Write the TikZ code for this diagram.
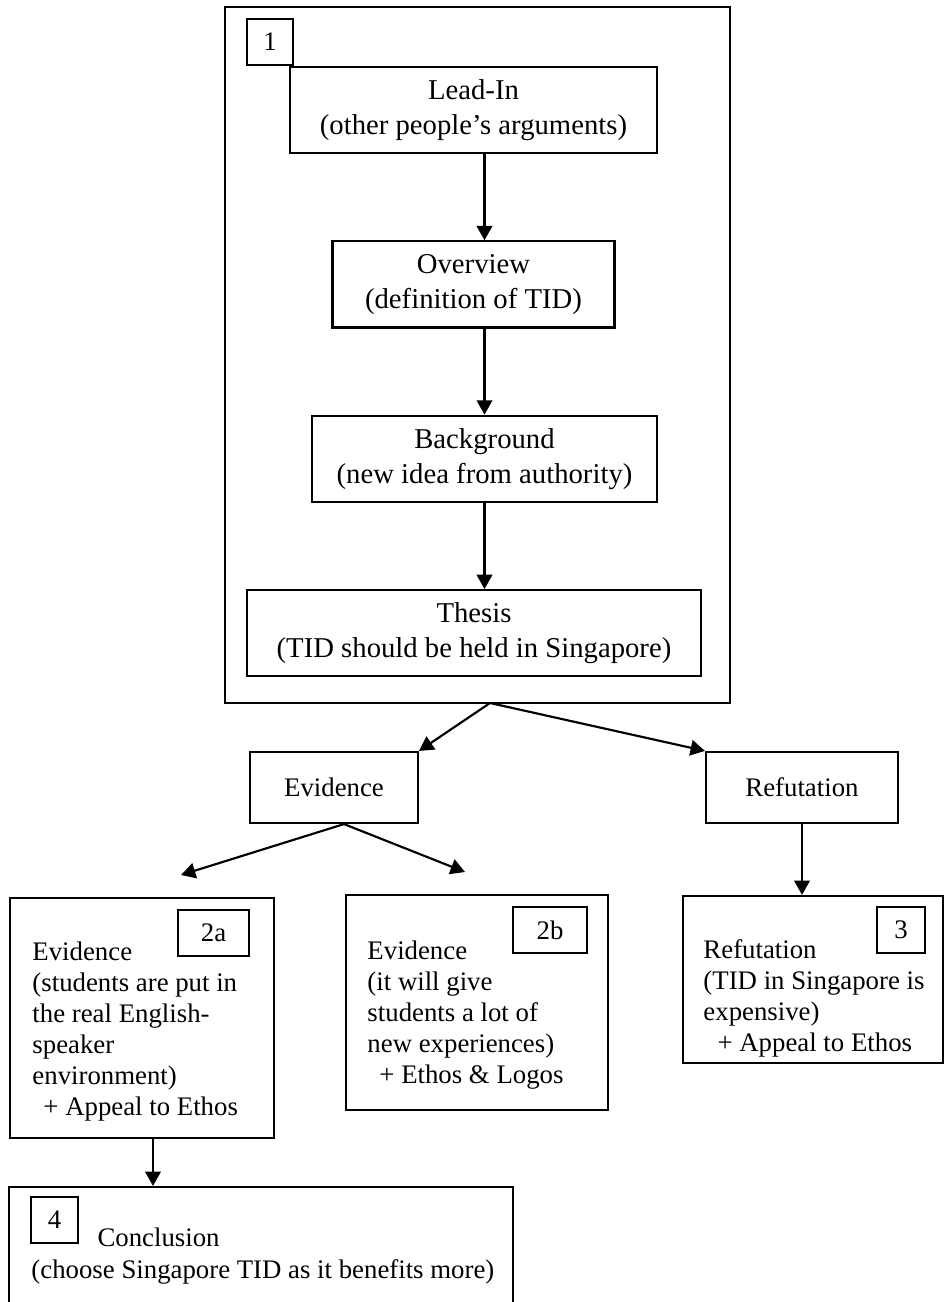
\documentclass[tikz,border=0pt]{standalone}
\usepackage{fontspec}
\setmainfont{Liberation Serif}
\usetikzlibrary{positioning,arrows.meta}
\newcommand{\pxl}{0.418pt}

\begin{document}
\begin{tikzpicture}[
  x=\pxl, y=-\pxl,
  box/.style={draw, line width=0.9pt, align=center, inner sep=0pt,
              minimum height=36pt, font=\fontsize{12}{14.6}\selectfont},
  midbox/.style={draw, line width=0.9pt, inner sep=0pt, minimum height=71*\pxl,
              font=\fontsize{11.2}{13}\selectfont},
  frame/.style={draw, line width=1pt, inner sep=0pt},
  numbox/.style={draw, line width=0.9pt, inner sep=0pt, minimum height=46*\pxl,
              font=\fontsize{11.2}{13}\selectfont},
  txt/.style={align=left, inner sep=0pt, anchor=north west,
              font=\fontsize{11.2}{13}\selectfont},
  flow/.style={-{Triangle[length=6pt,width=6.5pt]}, line width=0.9pt},
]
\useasboundingbox (0,0) rectangle (946,1302);

% ---- Part 1: introduction ----
\node[frame, minimum width=505*\pxl, minimum height=696*\pxl] (part1) at (477.5,355) {};
\node[box, minimum width=367*\pxl] (lead) at (473.5,110) {Lead-In\\(other people’s arguments)};
\node[box, minimum width=282*\pxl, below=36pt of lead] (over) {Overview\\(definition of TID)};
\node[box, minimum width=345*\pxl, below=36pt of over, xshift=11*\pxl] (back) {Background\\(new idea from authority)};
\node[box, minimum width=454*\pxl, below=36pt of back, xshift=-10.5*\pxl] (thesis) {Thesis\\(TID should be held in Singapore)};
\node[numbox, minimum width=46*\pxl] (num1) at (270,42) {1};

\draw[flow] (lead.south -| back) -- (over.north -| back);
\draw[flow] (over.south -| back) -- (back.north);
\draw[flow] (back.south) -- (thesis.north -| back);

% ---- Middle level ----
\node[midbox, minimum width=168*\pxl] (evid) at (334,787.5) {Evidence};
\node[midbox, minimum width=192*\pxl] (refu) at (802,787.5) {Refutation};

\coordinate (split) at (490,703);
\coordinate (tipA) at (181,875);
\coordinate (tipB) at (465,872);
\draw[flow] (split) -- (evid.north east);
\draw[flow] (split) -- (refu.north west);
\draw[flow] ([xshift=10*\pxl]evid.south) -- (tipA);
\draw[flow] ([xshift=10*\pxl]evid.south) -- (tipB);

% ---- Body paragraphs ----
\node[draw, line width=0.9pt, minimum width=264*\pxl, minimum height=240*\pxl] (ev2a) at (142,1018) {};
\node[draw, line width=0.9pt, minimum width=262*\pxl, minimum height=215*\pxl] (ev2b) at (477,1002.5) {};
\node[draw, line width=0.9pt, minimum width=260*\pxl, minimum height=167*\pxl] (ref3) at (813,979.5) {};

\node[numbox, minimum width=71*\pxl] (num2a) at (213.5,933) {2a};
\node[numbox, minimum width=74*\pxl] (num2b) at (550,930) {2b};
\node[numbox, minimum width=48*\pxl] (num3) at (901,930) {3};

\node[txt] (t2a) at (32,941) {Evidence\\(students are put in\\the real English-\\speaker\\environment)\\\hspace*{4.6pt}+ Appeal to Ethos};
\node[txt] (t2b) at (367,940) {Evidence\\(it will give\\students a lot of\\new experiences)\\\hspace*{5pt}+ Ethos \& Logos};
\node[txt] (t3) at (703,939) {Refutation\\(TID in Singapore is\\expensive)\\\hspace*{5.9pt}+ Appeal to Ethos};

\draw[flow] (refu.south) -- (refu.south |- ref3.north);

% ---- Conclusion ----
\node[draw, line width=0.9pt, minimum width=504*\pxl, minimum height=133*\pxl] (concl) at (261,1253.5) {};
\node[numbox, minimum width=47*\pxl] (num4) at (54.5,1220) {4};
\node[txt, font=\fontsize{11.2}{13.4}\selectfont] (t4) at (31,1227) {\hspace*{27.6pt}Conclusion\\(choose Singapore TID as it benefits more)};

\draw[flow] ([xshift=11*\pxl]ev2a.south) -- ([xshift=11*\pxl]ev2a.south |- concl.north);

\end{tikzpicture}
\end{document}
